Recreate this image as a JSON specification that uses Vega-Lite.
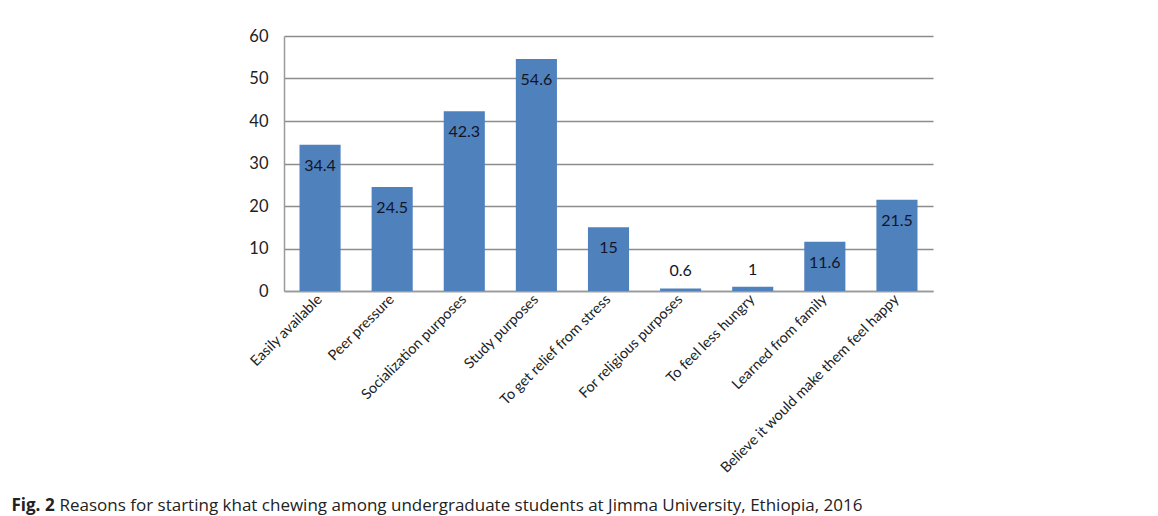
{
  "$schema": "https://vega.github.io/schema/vega-lite/v6.json",
  "width": 649,
  "height": 255,
  "autosize": {"type": "none"},
  "padding": {"left": 284, "top": 36, "right": 225, "bottom": 225},
  "background": "white",
  "config": {"view": {"stroke": null}},
  "data": {"values": [
    {"reason": "Easily available", "pct": 34.4},
    {"reason": "Peer pressure", "pct": 24.5},
    {"reason": "Socialization purposes", "pct": 42.3},
    {"reason": "Study purposes", "pct": 54.6},
    {"reason": "To get relief from stress", "pct": 15},
    {"reason": "For religious purposes", "pct": 0.6},
    {"reason": "To feel less hungry", "pct": 1},
    {"reason": "Learned from family", "pct": 11.6},
    {"reason": "Believe it would make them feel happy", "pct": 21.5}
  ]},
  "encoding": {
    "x": {
      "field": "reason", "type": "nominal", "sort": null,
      "scale": {"paddingInner": 0.43, "paddingOuter": 0.215},
      "axis": {
        "title": "Reasons for starting khat chewing among undergraduate students at Jimma University, Ethiopia, 2016",
        "titleFont": "Open Sans", "titleFontSize": 17, "titleFontWeight": "normal", "titleColor": "#222",
        "titleAnchor": "start", "titleAlign": "left", "titleBaseline": "alphabetic",
        "titleX": -225, "titleY": 219,
        "labelAngle": -45, "labelAlign": "right", "labelBaseline": "middle",
        "labelFont": "Lato", "labelFontSize": 14.5, "labelColor": "#222", "labelPadding": 6,
        "labelLimit": 400,
        "ticks": false, "domainColor": "#9a9a9a", "domainWidth": 1.5, "grid": false
      }
    },
    "y": {
      "field": "pct", "type": "quantitative",
      "scale": {"domain": [0, 60], "nice": false},
      "axis": {
        "values": [0, 10, 20, 30, 40, 50, 60],
        "title": "Fig. 2",
        "titleFont": "Open Sans", "titleFontSize": 17, "titleFontWeight": "bold", "titleColor": "#222",
        "titleAngle": 0, "titleAlign": "left", "titleBaseline": "alphabetic",
        "titleX": -273, "titleY": 474,
        "labelFont": "Lato", "labelFontSize": 16.5, "labelColor": "#222", "labelPadding": 16,
        "ticks": false, "domainColor": "#9a9a9a", "domainWidth": 1.5,
        "grid": true, "gridColor": "#8c8c8c", "gridWidth": 1.5
      }
    }
  },
  "layer": [
    {"mark": {"type": "bar", "color": "#4f81bd"}},
    {
      "transform": [{"filter": "datum.pct >= 5"}],
      "mark": {"type": "text", "baseline": "middle", "dy": 21, "font": "Lato", "fontSize": 16, "color": "#141428"},
      "encoding": {"text": {"field": "pct", "type": "quantitative"}}
    },
    {
      "transform": [{"filter": "datum.pct < 5"}],
      "mark": {"type": "text", "baseline": "middle", "dy": -17, "font": "Lato", "fontSize": 16, "color": "#141428"},
      "encoding": {"text": {"field": "pct", "type": "quantitative"}}
    }
  ]
}
